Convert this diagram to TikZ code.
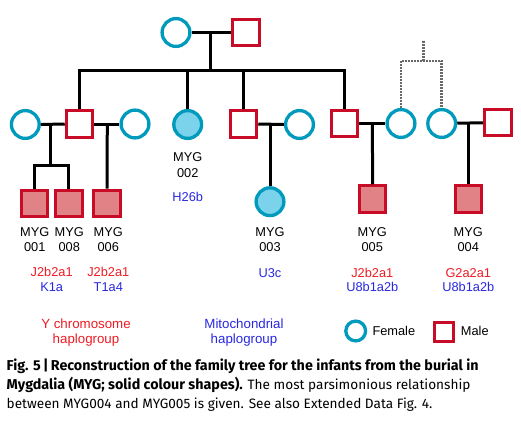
\documentclass[tikz,border=0pt]{standalone}
\usepackage{fontspec}
\setmainfont{Liberation Sans}
\newfontfamily\capfont{Fira Sans}
\usetikzlibrary{calc}
\definecolor{fstroke}{RGB}{0,155,188}
\definecolor{ffill}{RGB}{122,210,235}
\definecolor{mstroke}{RGB}{200,12,40}
\definecolor{mfill}{RGB}{225,130,135}
\definecolor{ytext}{RGB}{238,28,36}
\definecolor{mtext}{RGB}{40,40,225}
\definecolor{dotgrey}{RGB}{105,105,105}
\newcommand{\capbold}{\capfont\fontsize{14.3}{15}\selectfont\bfseries}
\newcommand{\capreg}{\capfont\fontsize{13.6}{15}\selectfont\mdseries}
\begin{document}
\begin{tikzpicture}[x=1pt,y=-1pt,
  female/.style={circle,draw=fstroke,line width=3.3pt,minimum size=27.8pt,inner sep=0pt},
  femfill/.style={female,fill=ffill},
  male/.style={rectangle,draw=mstroke,line width=3pt,minimum size=26.5pt,inner sep=0pt},
  malefill/.style={male,fill=mfill},
  link/.style={line width=3pt,black},
  dotlink/.style={line width=2.5pt,dotgrey,dash pattern=on 1.6pt off 1.4pt},
  lab/.style={font=\fontsize{12.8}{15}\selectfont,anchor=base,inner sep=0pt},
  ylab/.style={lab,text=ytext},
  mlab/.style={lab,text=mtext},
  captext/.style={anchor=base west,inner sep=0pt}]
\useasboundingbox (0,0) rectangle (521,423);
\fill[white] (0,0) rectangle (521,423);

% generation 1
\node[female] (F0) at (176,32.5) {};
\node[male] (M0) at (246,32.5) {};
% generation 2
\node[female] (F1) at (25.3,124.5) {};
\node[male] (M1) at (79.5,124) {};
\node[female] (F2) at (135,124) {};
\node[femfill] (F3) at (187.7,124.5) {};
\node[male] (M2) at (243.5,124) {};
\node[female] (F4) at (299.5,124.5) {};
\node[male] (M3) at (344.7,123.5) {};
\node[female] (F5) at (401,123.5) {};
\node[female] (F6) at (441.7,123.5) {};
\node[male] (M4) at (497.8,122.5) {};
% generation 3
\node[malefill] (S1) at (34.3,203.3) {};
\node[malefill] (S2) at (68.8,203.3) {};
\node[malefill] (S3) at (107,203.3) {};
\node[femfill] (C3) at (270,201.7) {};
\node[malefill] (S5) at (372.7,199) {};
\node[malefill] (S4) at (468.3,199) {};

% connectors
\coordinate (u0) at (210.7,32.5);
\coordinate (bar) at (210.7,70.7);
\coordinate (c1) at (50.7,124);
\coordinate (sib) at (50.7,165);
\coordinate (c2) at (107.3,124);
\coordinate (c3) at (270,124);
\coordinate (c4) at (372.3,124);
\coordinate (c5) at (468.3,123);
\coordinate (dtop) at (423.3,61);
\coordinate (dend) at (423.3,40);

\draw[link] (F0) -- (M0);
\draw[link] (u0) -- (bar);
\draw[link] (M1.north) |- (bar -| M3) -- (M3.north);
\draw[link] (F3.north) -- (F3 |- bar);
\draw[link] (M2.north) -- (M2 |- bar);
\draw[link] (F1) -- (M1);
\draw[link] (M1) -- (F2);
\draw[link] (M2) -- (F4);
\draw[link] (M3) -- (F5);
\draw[link] (F6) -- (M4);
\draw[link] (c1) -- (sib);
\draw[link] (S1.north) |- (sib) -| (S2.north);
\draw[link] (c2) -- (S3.north);
\draw[link] (c3) -- (C3.north);
\draw[link] (c4) -- (S5.north);
\draw[link] (c5) -- (S4.north);
\draw[dotlink] (F5.north) |- (dtop) -| (F6.north);
\draw[dotlink] (dtop) -- (dend);

% labels
\node[lab] (L2a) at (187.7,161.2) {MYG};
\node[lab] (L2b) at (187.7,177.8) {002};
\node[mlab] (H2) at (187.7,201.2) {H26b};

\node[lab] (L1a) at (34.7,236.2) {MYG};
\node[lab] (L1b) at (34.7,251.8) {001};
\node[lab] (L8a) at (69.3,236.2) {MYG};
\node[lab] (L8b) at (69.3,251.8) {008};
\node[lab] (L6a) at (108.3,236.2) {MYG};
\node[lab] (L6b) at (108.3,251.8) {006};
\node[lab] (L3a) at (270,236.2) {MYG};
\node[lab] (L3b) at (270,251.8) {003};
\node[lab] (L5a) at (372.3,236.2) {MYG};
\node[lab] (L5b) at (372.3,251.8) {005};
\node[lab] (L4a) at (468.3,236.2) {MYG};
\node[lab] (L4b) at (468.3,251.8) {004};

\node[ylab] (Y18) at (51.7,276.8) {J2b2a1};
\node[mlab] (M18) at (51.7,291.2) {K1a};
\node[ylab] (Y6) at (108.3,276.8) {J2b2a1};
\node[mlab] (M6) at (108.3,291.2) {T1a4};
\node[mlab] (M3h) at (270,277.8) {U3c};
\node[ylab] (Y5) at (372.3,277.5) {J2b2a1};
\node[mlab] (M5) at (372.3,291.5) {U8b1a2b};
\node[ylab] (Y4) at (468.3,277.5) {G2a2a1};
\node[mlab] (M4h) at (468.3,291.5) {U8b1a2b};

% legend
\node[ylab,font=\fontsize{13.3}{15}\selectfont] (Ya) at (86,328.5) {Y chromosome};
\node[ylab,font=\fontsize{13.3}{15}\selectfont] (Yb) at (86,343) {haplogroup};
\node[mlab,font=\fontsize{13.3}{15}\selectfont] (Ma) at (244,328.5) {Mitochondrial};
\node[mlab,font=\fontsize{13.3}{15}\selectfont] (Mb) at (244,343) {haplogroup};
\node[female,minimum size=19.8pt] (LF) at (355.7,331) {};
\node[lab,anchor=base west] (LFt) at (372.3,335.5) {Female};
\node[male,minimum size=19pt] (LM) at (444.2,331.8) {};
\node[lab,anchor=base west] (LMt) at (460.7,335.5) {Male};

% caption
\node[captext] (cap1) at (6.5,370) {\capbold Fig. 5\,|\,Reconstruction of the family tree for the infants from the burial in};
\node[captext] (cap2) at (6.5,389) {\capbold Mygdalia (MYG; solid colour shapes).\capreg{} The most parsimonious relationship};
\node[captext] (cap3) at (6.5,408) {\capreg between MYG004 and MYG005 is given. See also Extended Data Fig. 4.};
\end{tikzpicture}
\end{document}
